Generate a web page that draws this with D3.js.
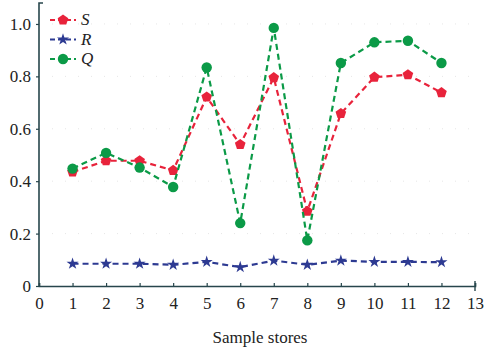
<!DOCTYPE html>
<html>
<head>
<meta charset="utf-8">
<script src="https://cdn.jsdelivr.net/npm/d3@7"></script>
<style>
  body { margin: 0; background: #fff; }
</style>
</head>
<body>
<div id="chart"></div>
<script>
// values
const stores = [1, 2, 3, 4, 5, 6, 7, 8, 9, 10, 11, 12];
const sValues = [0.435, 0.478, 0.478, 0.441, 0.721, 0.54, 0.795, 0.285, 0.658, 0.797, 0.806, 0.738];
const rValues = [0.085, 0.085, 0.085, 0.081, 0.092, 0.072, 0.097, 0.081, 0.097, 0.092, 0.092, 0.091];
const qValues = [0.448, 0.508, 0.452, 0.378, 0.834, 0.24, 0.985, 0.174, 0.851, 0.93, 0.936, 0.851];
const xTicks = d3.range(0, 14);
const yTicks = [0, 0.2, 0.4, 0.6, 0.8, 1.0];

const width = 487, height = 350;
const margin = { left: 39, right: 12, top: 3, bottom: 64 };
const serif = `"Liberation Serif"`;

const svg = d3.select("#chart").append("svg")
  .attr("width", width)
  .attr("height", height);

const x = d3.scaleLinear().domain([0, 13]).range([margin.left, width - margin.right]);
const y = d3.scaleLinear().domain([0, 1.08]).range([height - margin.bottom, margin.top]);

const axisColor = "#27464c";

// faint dotted grid
svg.append("g")
  .selectAll("line")
  .data(yTicks.slice(1))
  .join("line")
  .attr("x1", x(0)).attr("x2", x(13))
  .attr("y1", d => y(d)).attr("y2", d => y(d))
  .attr("stroke", "#e6e6e6")
  .attr("stroke-width", 1)
  .attr("stroke-dasharray", "1,12");

// X axis
const xAxis = svg.append("g")
  .attr("transform", `translate(0,${y(0)})`)
  .call(d3.axisBottom(x).tickValues(xTicks).tickFormat(d3.format("d")).tickSize(-3).tickPadding(11));
xAxis.select(".domain").attr("stroke", axisColor).attr("stroke-width", 1.6);
xAxis.selectAll(".tick line").attr("stroke", axisColor).attr("stroke-width", 1.2);
xAxis.selectAll(".tick text").style("font-family", serif).style("font-size", "17px").attr("fill", "#222");
// end cap at 13
xAxis.append("line")
  .attr("x1", x(13)).attr("x2", x(13)).attr("y1", -5).attr("y2", 5)
  .attr("stroke", axisColor).attr("stroke-width", 1.4);

// Y axis
const yAxis = svg.append("g")
  .attr("transform", `translate(${x(0)},0)`)
  .call(d3.axisLeft(y).tickValues(yTicks)
    .tickFormat(d => d === 0 ? "0" : d3.format(".1f")(d))
    .tickSize(3).tickPadding(5));
yAxis.select(".domain").attr("stroke", axisColor).attr("stroke-width", 1.6)
  .attr("d", `M4,${y(1.08)}H0V${y(0)}`);
yAxis.selectAll(".tick line").attr("stroke", axisColor).attr("stroke-width", 1.2);
yAxis.selectAll(".tick text").style("font-family", serif).style("font-size", "17px").attr("fill", "#222");

svg.append("text")
  .attr("x", (x(0) + x(13)) / 2 + 3)
  .attr("y", 343)
  .attr("text-anchor", "middle")
  .style("font-family", serif)
  .style("font-size", "17px")
  .attr("fill", "#222")
  .text("Sample stores");

const series = [
  { name: "S", values: sValues, color: "#e8233b", shape: "pent" },
  { name: "R", values: rValues, color: "#2d3a92", symbol: d3.symbolStar, size: 45 },
  { name: "Q", values: qValues, color: "#0b9a47", symbol: d3.symbolCircle, size: 85 }
];

// pentagon path for S
function pentagon(r) {
  const pts = d3.range(5).map(i => {
    const a = -Math.PI / 2 + i * 2 * Math.PI / 5;
    return [r * Math.cos(a), r * Math.sin(a)];
  });
  return "M" + pts.map(p => p.join(",")).join("L") + "Z";
}

function markerPath(s) {
  if (s.shape === "pent") return pentagon(5.6);
  return d3.symbol().type(s.symbol).size(s.size)();
}

const line = d3.line().x((d, i) => x(stores[i])).y(d => y(d));

// draw in order S, R, Q (Q on top)
series.forEach(s => {
  const g = svg.append("g").attr("class", "series-" + s.name);
  g.append("path")
    .datum(s.values)
    .attr("d", line)
    .attr("fill", "none")
    .attr("stroke", s.color)
    .attr("stroke-width", 2.2)
    .attr("stroke-dasharray", "6,4");
  g.selectAll("path.mark")
    .data(s.values)
    .join("path")
    .attr("class", "mark")
    .attr("transform", (d, i) => `translate(${x(stores[i])},${y(d)})`)
    .attr("d", markerPath(s))
    .attr("fill", s.color);
});

// legend
const legend = svg.append("g").attr("transform", "translate(50,20)");
series.forEach((s, i) => {
  const row = legend.append("g").attr("transform", `translate(0,${i * 19.5})`);
  row.append("line")
    .attr("x1", 0).attr("x2", 26)
    .attr("stroke", s.color).attr("stroke-width", 2.2)
    .attr("stroke-dasharray", "5,3");
  row.append("path")
    .attr("transform", "translate(13,0)")
    .attr("d", markerPath(s))
    .attr("fill", s.color);
  row.append("text")
    .attr("x", 31).attr("y", 5)
    .style("font-family", serif)
    .style("font-size", "17px")
    .style("font-style", "italic")
    .attr("fill", "#222")
    .text(s.name);
});
</script>
</body>
</html>
